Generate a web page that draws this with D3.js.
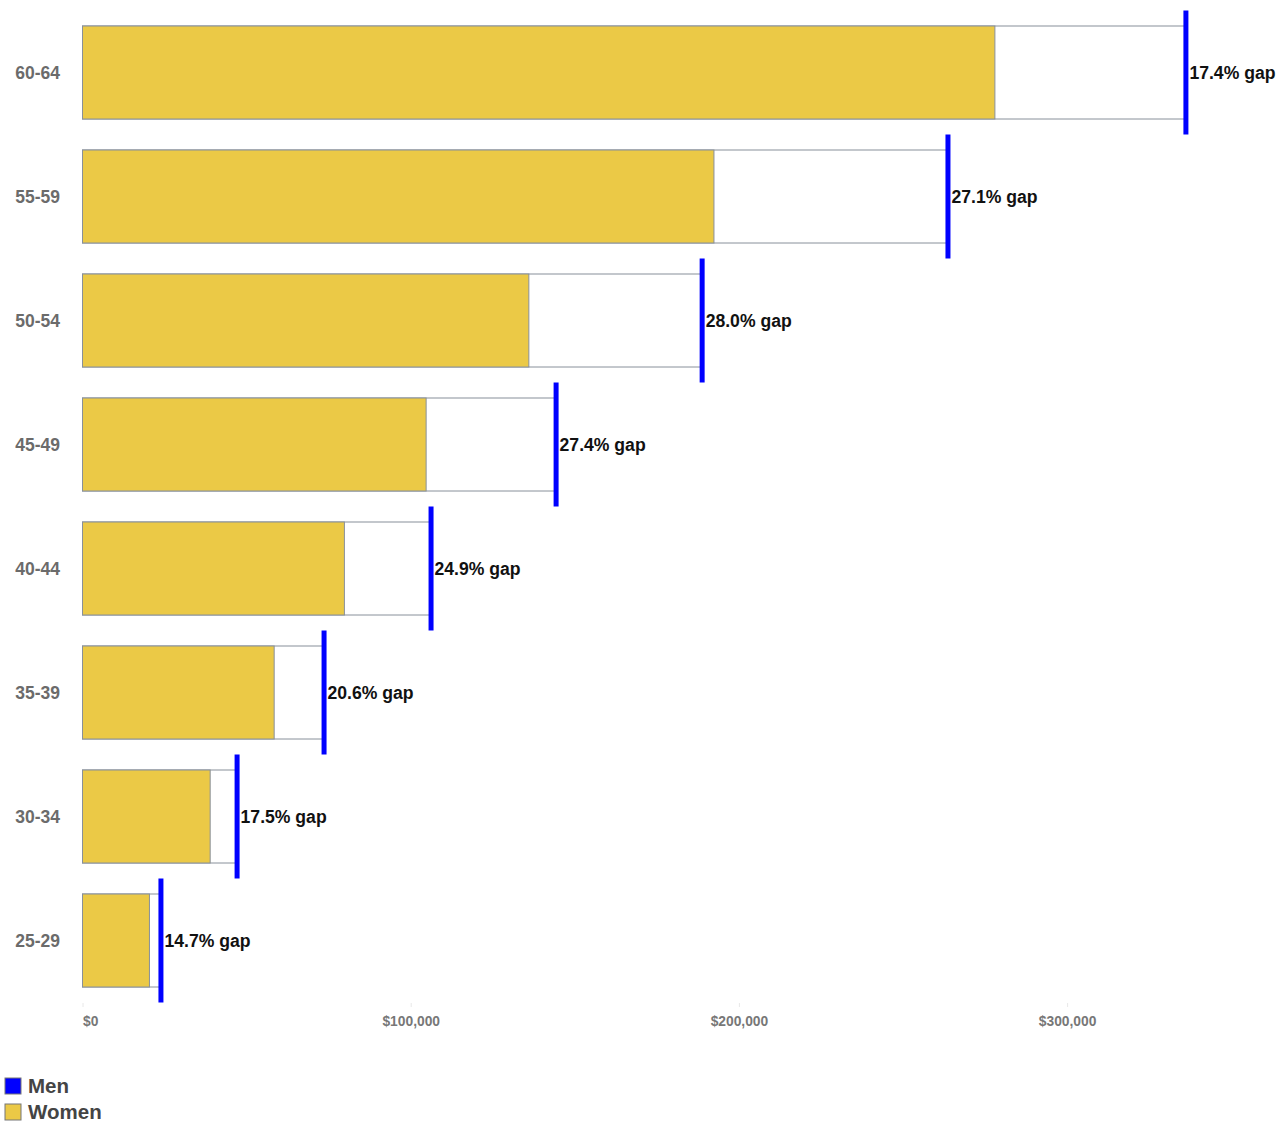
<!DOCTYPE html>
<html><head><meta charset="utf-8">
<script src="https://cdn.jsdelivr.net/npm/d3@7"></script>
<style>body{margin:0;background:#fff;font-family:"Liberation Sans",Arial,sans-serif}</style>
</head><body><svg id="c" width="1283" height="1124"></svg>
<script>
const categories = ["60-64","55-59","50-54","45-49","40-44","35-39","30-34","25-29"];
const men = [336200, 263700, 188800, 144300, 106200, 73600, 47100, 23900];
const women = [278000, 192400, 136000, 104700, 79800, 58400, 38900, 20400];
const gapLabels = ["17.4% gap","27.1% gap","28.0% gap","27.4% gap","24.9% gap","20.6% gap","17.5% gap","14.7% gap"];
const tickValues = [0, 100000, 200000, 300000];
const tickLabels = ["$0","$100,000","$200,000","$300,000"];
const legendItems = [{name:"Men", color:"#0000ff"},{name:"Women", color:"#ebc946"}];

const svg = d3.select("#c");
const x = d3.scaleLinear().domain([0, 100000]).range([82.5, 410.7]);
const y = d3.scaleBand().domain(categories).range([10.5, 1002.5]).paddingInner(0.25).paddingOuter(0.125);
const data = categories.map((c,i)=>({c, m:men[i], w:women[i], g:gapLabels[i]}));
const stroke = "#88909a";

// men (white) bars
svg.append("g").selectAll("rect").data(data).join("rect")
  .attr("x", x(0)).attr("y", d=>y(d.c))
  .attr("width", d=>x(d.m)-x(0)).attr("height", y.bandwidth())
  .attr("fill", "#fff").attr("stroke", stroke).attr("stroke-width", 1);
// women bars
svg.append("g").selectAll("rect").data(data).join("rect")
  .attr("x", x(0)).attr("y", d=>y(d.c))
  .attr("width", d=>x(d.w)-x(0)).attr("height", y.bandwidth())
  .attr("fill", "#ebc946").attr("stroke", stroke).attr("stroke-width", 1);
// men markers
const step = y.step();
svg.append("g").selectAll("line").data(data).join("line")
  .attr("x1", d=>x(d.m)).attr("x2", d=>x(d.m))
  .attr("y1", d=>y(d.c)-(step-y.bandwidth())/2).attr("y2", d=>y(d.c)+y.bandwidth()+(step-y.bandwidth())/2)
  .attr("stroke", "#0000ff").attr("stroke-width", 5);
// gap labels
svg.append("g").selectAll("text").data(data).join("text")
  .attr("x", d=>x(d.m)+3.5).attr("y", d=>y(d.c)+y.bandwidth()/2)
  .attr("dy", "0.35em").attr("font-size", 17.6).attr("font-weight", "bold").attr("fill", "#111")
  .text(d=>d.g);
// category labels
svg.append("g").selectAll("text").data(data).join("text")
  .attr("x", 60).attr("y", d=>y(d.c)+y.bandwidth()/2)
  .attr("dy", "0.35em").attr("text-anchor", "end").attr("font-size", 17.5).attr("font-weight", "bold").attr("fill", "#6b6b6b")
  .text(d=>d.c);
// x axis
const axis = d3.axisBottom(x).tickValues(tickValues).tickFormat((d,i)=>tickLabels[i]).tickSize(4).tickPadding(9);
const ax = svg.append("g").attr("transform","translate(0,1003)").call(axis);
ax.select(".domain").remove();
ax.selectAll(".tick line").attr("stroke","#e8e8e8");
ax.selectAll(".tick text").attr("font-family","Liberation Sans, Arial, sans-serif").attr("font-size",13.8).attr("font-weight","bold").attr("fill","#777")
  .attr("text-anchor",(d,i)=>i===0?"start":"middle");
// legend
const lg = svg.append("g").selectAll("g").data(legendItems).join("g")
  .attr("transform",(d,i)=>`translate(5,${1078+i*26})`);
lg.append("rect").attr("width",16).attr("height",16).attr("fill",d=>d.color).attr("stroke","#777").attr("stroke-width",1);
lg.append("text").attr("x",23).attr("y",8).attr("dy","0.35em").attr("font-size",20.5).attr("font-weight","bold").attr("fill","#444").text(d=>d.name);
</script></body></html>
